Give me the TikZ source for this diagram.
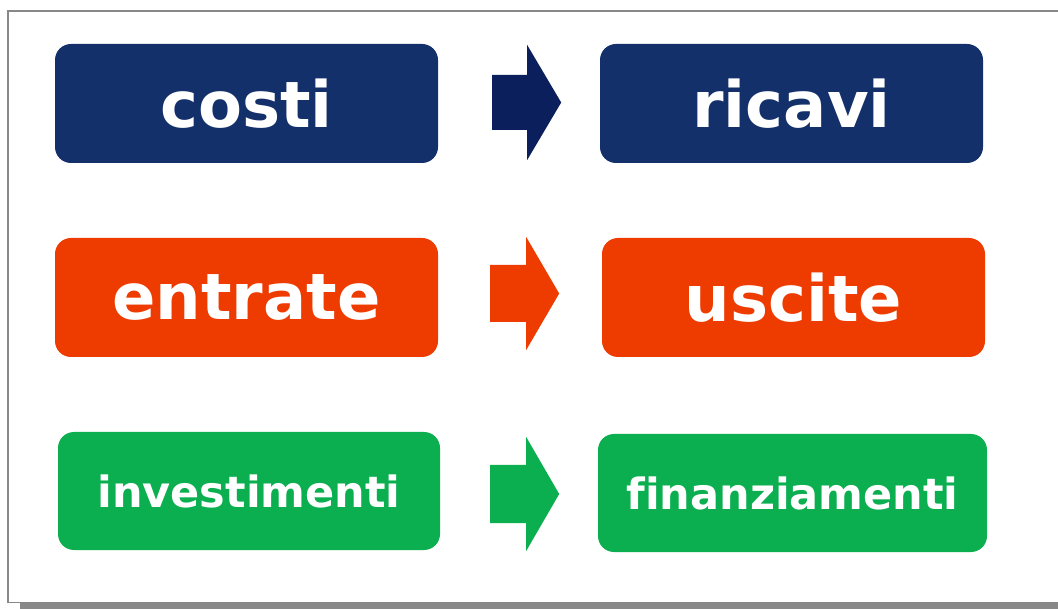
\documentclass[tikz,border=0pt]{standalone}
\usepackage{fontspec}
\setmainfont[Ligatures={NoCommon}]{DejaVu Sans}
\usepackage{xcolor}
\usetikzlibrary{positioning, calc}

\definecolor{navybox}{HTML}{13306A}
\definecolor{navyarrow}{HTML}{0B1F5C}
\definecolor{orangebox}{HTML}{EE3B00}
\definecolor{greenbox}{HTML}{0BAF4F}
\definecolor{framegray}{HTML}{888888}

\tikzset{
  voce/.style={rectangle, rounded corners=16pt, inner sep=0pt, text=white,
               minimum width=383pt, minimum height=119pt,
               font=\fontsize{64}{70}\selectfont\bfseries},
  vocepiccola/.style={voce, minimum width=382pt, minimum height=118pt,
               font=\fontsize{43}{48}\selectfont\bfseries},
  freccia/.style={draw=none}
}

\begin{document}
\begin{tikzpicture}[x=1pt, y=-1pt]
    \useasboundingbox (0,0) rectangle (1058,609);
    \fill[white] (0,0) rectangle (1058,609);

    % frame with shadow
    \fill[framegray] (20,602) rectangle (1058,609);
    \draw[framegray, line width=1.5pt] (1058,11) -- (8,11) -- (8,602.5) -- (1058,602.5);

    % Row 0: costi -> ricavi
    \node[voce, fill=navybox] (costi) at (246.5,103.5) {costi};
    \node[voce, fill=navybox] (ricavi) at (791.5,103.5) {ricavi};
    \coordinate (f0) at ($(costi.east)+(54,-1)$);
    \fill[freccia, navyarrow] (f0) ++(0,-27.5) -- ++(35,0) -- ++(0,-30) -- ++(34,57.5)
        -- ++(-34,57.5) -- ++(0,-30) -- ++(-35,0) -- cycle;

    % Row 1: entrate -> uscite
    \node[voce, fill=orangebox] (entrate) at (246.5,297.5) {entrate};
    \node[voce, fill=orangebox] (uscite) at (793.5,297.5) {uscite};
    \coordinate (f1) at ($(entrate.east)+(52,-4)$);
    \fill[freccia, orangebox] (f1) ++(0,-28.5) -- ++(36,0) -- ++(0,-28) -- ++(33,56.5)
        -- ++(-33,56.5) -- ++(0,-28) -- ++(-36,0) -- cycle;

    % Row 2: investimenti -> finanziamenti
    \node[vocepiccola, fill=greenbox] (investimenti) at (249,491) {investimenti};
    \node[vocepiccola, fill=greenbox, minimum width=389pt] (finanziamenti) at (792.5,493) {finanziamenti};
    \coordinate (f2) at ($(investimenti.east)+(50,3)$);
    \fill[freccia, greenbox] (f2) ++(0,-29) -- ++(36,0) -- ++(0,-28) -- ++(33,57)
        -- ++(-33,57) -- ++(0,-28) -- ++(-36,0) -- cycle;
\end{tikzpicture}
\end{document}
